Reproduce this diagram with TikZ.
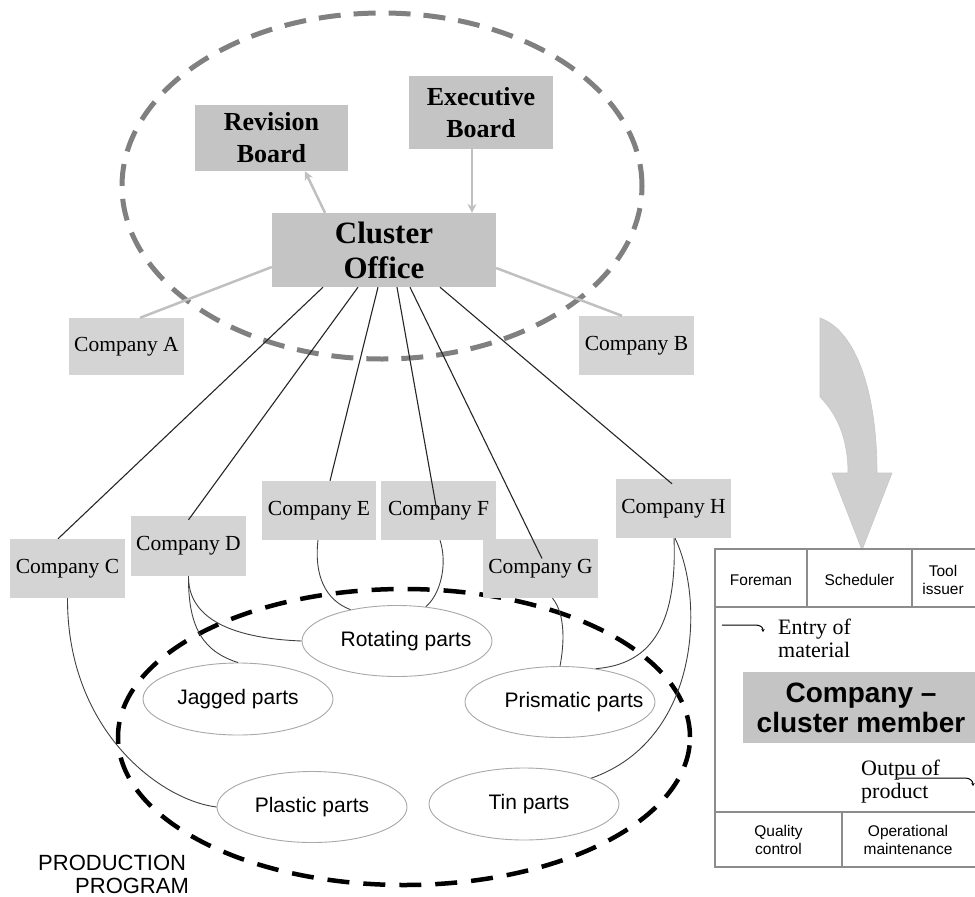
\documentclass[tikz,border=0pt]{standalone}
\usepackage{fontspec}
\setmainfont{Liberation Serif}
\setsansfont{Liberation Sans}
\usetikzlibrary{shapes.geometric,arrows.meta}
\definecolor{boardgray}{HTML}{C4C4C4}
\definecolor{compgray}{HTML}{D4D4D4}
\definecolor{lightline}{HTML}{C0C0C0}
\definecolor{ellgray}{HTML}{A8A8A8}
\definecolor{dashgray}{HTML}{808080}
\definecolor{panelgray}{HTML}{8C8C8C}
\definecolor{bigarrow}{HTML}{CFCFCF}
\newcommand{\comptext}[1]{\raisebox{4pt}{#1}}
\begin{document}
\begin{tikzpicture}[x=1pt,y=-1pt,
  board/.style={fill=boardgray, inner sep=0pt, align=center, font=\bfseries\fontsize{26}{32}\selectfont},
  company/.style={fill=compgray, minimum width=115pt, minimum height=59pt, inner sep=0pt, font=\fontsize{21.5}{24}\selectfont},
  part/.style={ellipse, draw=ellgray, line width=0.9pt, fill=white, minimum width=190pt, minimum height=71pt, inner sep=0pt, font=\sffamily\fontsize{21}{24}\selectfont},
  link/.style={draw=black!85, line width=1.1pt},
  curvelink/.style={draw=black!75, line width=0.9pt},
  lightlink/.style={draw=lightline, line width=2.5pt},
  lightarrow/.style={draw=lightline, line width=2.5pt, -{Stealth[length=9pt,width=9pt,inset=3pt]}},
  panel/.style={draw=panelgray, line width=1.2pt},
  celltext/.style={align=center, inner sep=0pt, font=\sffamily\fontsize{15.5}{18}\selectfont},
  hooktext/.style={align=left, inner sep=0pt, anchor=west, font=\fontsize{22}{23}\selectfont},
  hookarrow/.style={draw=black, line width=1pt, -{Stealth[length=3pt,width=3.5pt]}}
]
\useasboundingbox (0,0) rectangle (975,897);

% dashed ellipses
\draw[dashgray, line width=5pt, dash pattern=on 22pt off 13pt] (382,186) ellipse [x radius=260pt, y radius=173pt];
\draw[black, line width=4.5pt, dash pattern=on 22pt off 14pt] (404,737) ellipse [x radius=286pt, y radius=148pt];

% boards
\node[board, minimum width=153pt, minimum height=66pt] (rb) at (271.5,138) {Revision\\Board};
\node[board, minimum width=144pt, minimum height=73pt] (eb) at (481,112.5) {Executive\\Board};
\node[board, minimum width=224pt, minimum height=74pt, font=\bfseries\fontsize{31}{35}\selectfont] (co) at (384,250) {Cluster\\Office};

% companies
\node[company, minimum height=57pt] (ca) at (126.5,346.5) {\comptext{Company A}};
\node[company] (cb) at (636.5,345.5) {\comptext{Company B}};
\node[company] (cc) at (67.5,568.5) {\comptext{Company C}};
\node[company, minimum height=60pt] (cd) at (188.5,546) {\comptext{Company D}};
\node[company, minimum width=114pt] (ce) at (319,510.5) {\comptext{Company E}};
\node[company] (cf) at (438.5,510.5) {\comptext{Company F}};
\node[company] (cg) at (540.5,568.5) {\comptext{Company G}};
\node[company] (ch) at (673.5,508.5) {\comptext{Company H}};

% parts
\node[part] (rot) at (397,641) {\makebox[0pt]{\hspace*{18pt}Rotating parts}};
\node[part, minimum height=72pt] (jag) at (238,699) {\makebox[0pt]{Jagged parts}};
\node[part] (pri) at (560,702) {\makebox[0pt]{\hspace*{28pt}Prismatic parts}};
\node[part] (pla) at (312,807) {\makebox[0pt]{Plastic parts}};
\node[part, minimum height=72pt] (tin) at (524,804) {\makebox[0pt]{\hspace*{10pt}Tin parts}};

% board arrows
\draw[lightarrow] ([xshift=-59pt]co.north) -- ([xshift=33.5pt]rb.south);
\draw[lightarrow] ([xshift=-9pt]eb.south) -- ([xshift=-9pt]eb.south |- co.north);

% light links
\draw[lightlink] ([yshift=-17pt]co.west) -- ([xshift=13.5pt]ca.north);
\draw[lightlink] ([yshift=-18pt]co.east) -- ([xshift=-14.5pt]cb.north);

% black links
\draw[link] ([xshift=-61pt]co.south) -- ([xshift=-9.5pt]cc.north);
\draw[link] ([xshift=-26pt]co.south) -- ([yshift=-4pt]cd.north);
\draw[link] ([xshift=-6pt]co.south) -- ([xshift=11pt]ce.north);
\draw[link] ([xshift=13pt]co.south) -- ([xshift=-2pt,yshift=2pt]cf.center);
\draw[link] ([xshift=26pt]co.south) -- ([xshift=1.5pt,yshift=10pt]cg.center);
\draw[link] ([xshift=56pt]co.south) -- ([xshift=-1.5pt,yshift=-5pt]ch.north);

% curves to parts
\draw[curvelink] (cc.south) .. controls (67,730) and (160,800) .. (pla.west);
\draw[curvelink] (cd.south) .. controls (188,615) and (225,638) .. (rot.west);
\draw[curvelink] (cd.south) .. controls (188,630) and (205,652) .. (jag.north);
\draw[curvelink] ([xshift=-1pt]ce.south) .. controls (314,575) and (325,600) .. (rot.146);
\draw[curvelink] ([xshift=1.5pt]cf.south) .. controls (448,565) and (440,595) .. (rot.50);
\draw[curvelink] ([xshift=12pt]cg.south) .. controls (566,615) and (564,645) .. (pri.north);
\draw[curvelink] ([xshift=0.5pt]ch.south) .. controls (678,640) and (640,665) .. (pri.43);
\draw[curvelink] ([xshift=1.5pt]ch.south) .. controls (705,600) and (700,740) .. (tin.21);

% big curved arrow
\draw[fill=bigarrow, draw=black!22, line width=0.6pt]
  (820,318) -- (820,397) .. controls (838,415) and (848,440) .. (848,473)
  -- (832,473) -- (862,550) -- (892,473) -- (877,473)
  .. controls (877,390) and (855,330) .. (820,318) -- cycle;

% company panel
\draw[panel] (715,549) rectangle (980,867);
\draw[panel] (715,607) -- (980,607);
\draw[panel] (715,812) -- (980,812);
\draw[panel] (807,549) -- (807,607);
\draw[panel] (912,549) -- (912,607);
\draw[panel] (842,812) -- (842,867);
\node[celltext] (fore) at (761,580) {Foreman};
\node[celltext] (sched) at (859.5,580) {Scheduler};
\node[celltext] (tool) at (943,580) {Tool\\issuer};
\node[celltext] (qual) at (778.5,840) {Quality\\control};
\node[celltext] (oper) at (908,840) {Operational\\maintenance};
\node[fill=boardgray, minimum width=236pt, minimum height=71pt, inner sep=0pt, align=center,
      font=\sffamily\bfseries\fontsize{28}{30}\selectfont] (member) at (861,707.5) {Company –\\cluster member};
\node[hooktext] (entry) at (778,638) {Entry of\\material};
\node[hooktext] (output) at (861,782) {Outpu of\\product};
\coordinate (ein) at (722,625);
\coordinate (eend) at (763,632);
\draw[hookarrow] (ein) -- (755,625) .. controls (760,625) and (763,627) .. (eend);
\coordinate (oin) at (898,778);
\coordinate (oend) at (973,786);
\draw[hookarrow] (oin) -- (965,778) .. controls (970,778) and (973,781) .. (oend);

% label
\node[align=left, inner sep=0pt, anchor=west, font=\sffamily\fontsize{22}{23}\selectfont] (prog) at (38,874) {PRODUCTION\\\hspace*{37pt}PROGRAM};
\end{tikzpicture}
\end{document}
